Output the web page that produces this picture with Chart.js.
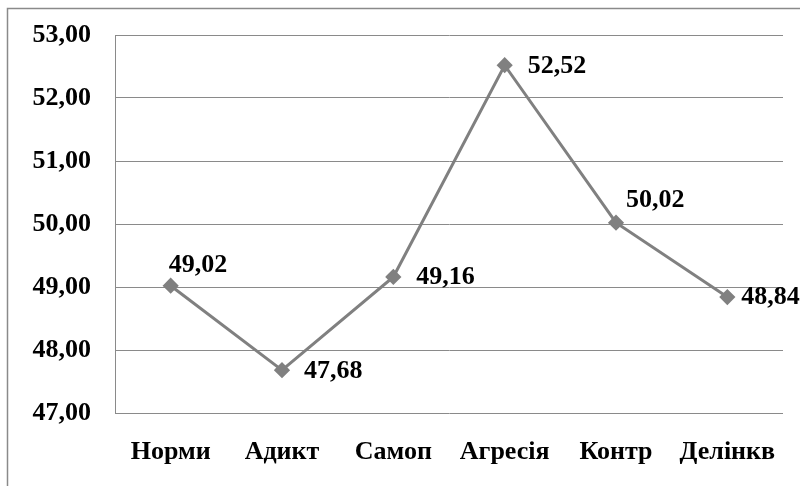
<!DOCTYPE html>
<html>
<head>
<meta charset="utf-8">
<script src="https://cdn.jsdelivr.net/npm/chart.js@4"></script>
<style>
  html, body { margin: 0; padding: 0; background: #fff; }
  #wrap { width: 800px; height: 486px; position: relative; }
</style>
</head>
<body>
<div id="wrap"><canvas id="chart" width="800" height="486"></canvas></div>
<script>
const categories = ['Норми', 'Адикт', 'Самоп', 'Агресія', 'Контр', 'Делінкв'];
const values = [49.02, 47.68, 49.16, 52.52, 50.02, 48.84];
const yTicks = [47, 48, 49, 50, 51, 52, 53];

const fontFamily = '"Liberation Serif", "Times New Roman", serif';
const grey = '#808080';
const fmt = (v) => v.toFixed(2).replace('.', ',');

// where each value label sits, relative to its point
const labelOffsets = [[-2, -20], [22, 1], [23, 0], [23, 1], [10, -22], [14, 0]];

const framePlugin = {
    id: 'frame',
    beforeDraw(chart) {
        const ctx = chart.ctx;
        ctx.save();
        ctx.fillStyle = '#fff';
        ctx.fillRect(0, 0, chart.width, chart.height);
        ctx.strokeStyle = '#8a8a8a';
        ctx.lineWidth = 1.5;
        ctx.strokeRect(7.5, 8.5, chart.width + 20, chart.height + 20);
        ctx.restore();
    }
};

const valueLabels = {
    id: 'valueLabels',
    afterDatasetsDraw(chart) {
        const ctx = chart.ctx;
        const meta = chart.getDatasetMeta(0);
        ctx.save();
        ctx.font = 'bold 26px ' + fontFamily;
        ctx.fillStyle = '#000';
        ctx.textAlign = 'left';
        ctx.textBaseline = 'middle';
        meta.data.forEach((pt, i) => {
            const [dx, dy] = labelOffsets[i];
            ctx.fillText(fmt(values[i]), pt.x + dx, pt.y + dy);
        });
        ctx.restore();
    }
};

new Chart(document.getElementById('chart'), {
    type: 'line',
    data: {
        labels: categories,
        datasets: [{
            data: values,
            borderColor: grey,
            backgroundColor: grey,
            borderWidth: 3,
            pointStyle: 'rectRot',
            pointRadius: 6,
            pointHoverRadius: 6,
            pointBackgroundColor: grey,
            pointBorderColor: grey,
            tension: 0,
            fill: false
        }]
    },
    options: {
        responsive: false,
        animation: false,
        events: [],
        layout: { padding: { left: 7, right: 17, top: 35, bottom: 0 } },
        plugins: { legend: { display: false }, tooltip: { enabled: false } },
        scales: {
            x: {
                offset: true,
                grid: { display: false, drawTicks: false },
                border: { display: false },
                ticks: { color: '#000', font: { family: fontFamily, size: 26, weight: 'bold' }, padding: 24, maxRotation: 0 },
                afterFit: (s) => { s.height = 73; s.paddingLeft = 0; s.paddingRight = 0; }
            },
            y: {
                min: 47,
                max: 53,
                afterBuildTicks: (s) => { s.ticks = yTicks.map(v => ({ value: v })); },
                grid: { color: '#8a8a8a', lineWidth: 1, drawTicks: false },
                border: { display: true, color: '#8a8a8a', width: 1 },
                ticks: {
                    color: '#000',
                    font: { family: fontFamily, size: 26, weight: 'bold' },
                    padding: 24,
                    callback: (v) => fmt(v)
                },
                afterFit: (s) => { s.width = 108; s.paddingTop = 0; s.paddingBottom = 0; }
            }
        }
    },
    plugins: [framePlugin, valueLabels]
});
</script>
</body>
</html>
